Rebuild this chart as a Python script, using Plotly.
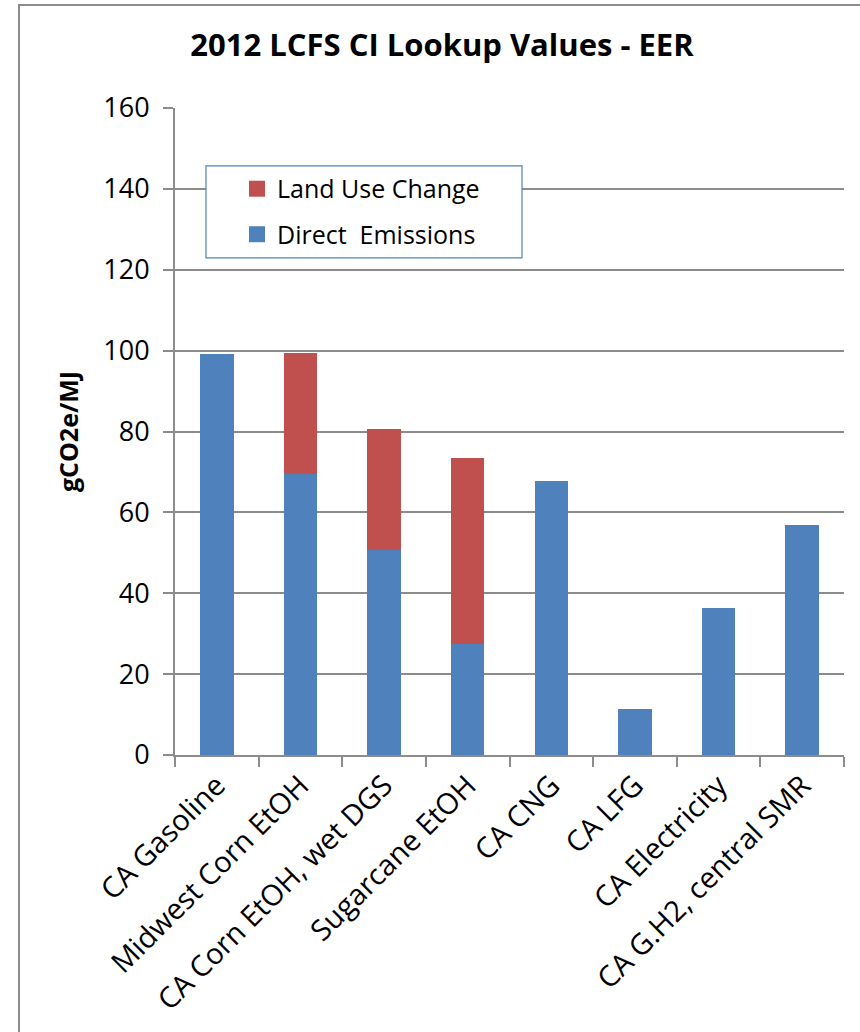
import plotly.graph_objects as go

# Carbon-intensity lookup values (gCO2e/MJ), EER-adjusted
fuels = [
    "CA Gasoline",
    "Midwest Corn EtOH",
    "CA Corn EtOH, wet DGS",
    "Sugarcane EtOH",
    "CA CNG",
    "CA LFG",
    "CA Electricity",
    "CA G.H2, central SMR",
]
direct_emissions = [99.18, 69.4, 50.7, 27.4, 67.7, 11.26, 36.4, 56.9]
land_use_change = [0, 30, 30, 46, 0, 0, 0, 0]
y_ticks = [0, 20, 40, 60, 80, 100, 120, 140, 160]

BLUE = "#4F81BD"
RED = "#C0504D"
GRID = "#8c8c8c"
FONT = "Open Sans"

fig = go.Figure()
fig.add_trace(go.Bar(
    x=fuels, y=direct_emissions, name="Direct  Emissions",
    marker=dict(color=BLUE, line=dict(width=0)), showlegend=False,
))
fig.add_trace(go.Bar(
    x=fuels, y=land_use_change, name="Land Use Change",
    marker=dict(color=RED, line=dict(width=0)), showlegend=False,
))
# legend keys drawn as square markers (top entry first)
fig.add_trace(go.Scatter(
    x=[None], y=[None], mode="markers", name="Land Use Change",
    legendgroup="luc",
    marker=dict(symbol="square", size=16, color=RED),
))
fig.add_trace(go.Scatter(
    x=[None], y=[None], mode="markers", name="Direct  Emissions",
    legendgroup="direct",
    marker=dict(symbol="square", size=16, color=BLUE),
))

# outer chart border (left and top edges fall inside the page)
fig.add_shape(
    type="rect", xref="paper", yref="paper",
    x0=-0.2332, x1=1.2, y0=-0.6, y1=1.1592,
    line=dict(color=GRID, width=2), fillcolor="rgba(0,0,0,0)", layer="below",
)
# legend frame with white fill over the gridlines
fig.add_shape(
    type="rect", xref="paper", yref="paper",
    x0=0.0463, x1=0.5187, y0=0.7682, y1=0.9104,
    line=dict(color=BLUE, width=1.2), fillcolor="white", layer="above",
)

fig.update_layout(
    width=860, height=1032,
    margin=dict(l=175, r=16, t=108, b=277),
    paper_bgcolor="white", plot_bgcolor="white",
    barmode="stack", bargap=0.6,
    font=dict(family=FONT, color="black"),
    title=dict(
        text="<b>2012 LCFS CI Lookup Values - EER</b>",
        x=442 / 860, xanchor="center", y=1 - 45 / 1032, yanchor="middle",
        font=dict(family=FONT, size=31, color="black"),
    ),
    legend=dict(
        x=(237 - 175) / 669, y=0.9104, xanchor="left", yanchor="top",
        bgcolor="rgba(0,0,0,0)", borderwidth=0,
        font=dict(family=FONT, size=25, color="black"),
        traceorder="grouped", tracegroupgap=10,
        itemwidth=30,
    ),
    showlegend=True,
)

fig.update_xaxes(
    type="category", tickangle=-45,
    tickfont=dict(family=FONT, size=29, color="black"),
    showline=True, linecolor=GRID, linewidth=2,
    ticks="outside", tickson="boundaries", ticklen=10, tickcolor=GRID, tickwidth=2,
    showgrid=False,
)
fig.update_yaxes(
    range=[0, 160], tickvals=y_ticks,
    tickfont=dict(family=FONT, size=27, color="black"),
    showline=True, linecolor=GRID, linewidth=2,
    ticks="outside", ticklen=10, tickcolor=GRID, tickwidth=2,
    ticklabelstandoff=8,
    showgrid=True, gridcolor=GRID, gridwidth=2,
    zeroline=False,
    title=dict(text="<b>gCO2e/MJ</b>", font=dict(family=FONT, size=25, color="black"), standoff=18),
)

fig.write_html("out.html")
